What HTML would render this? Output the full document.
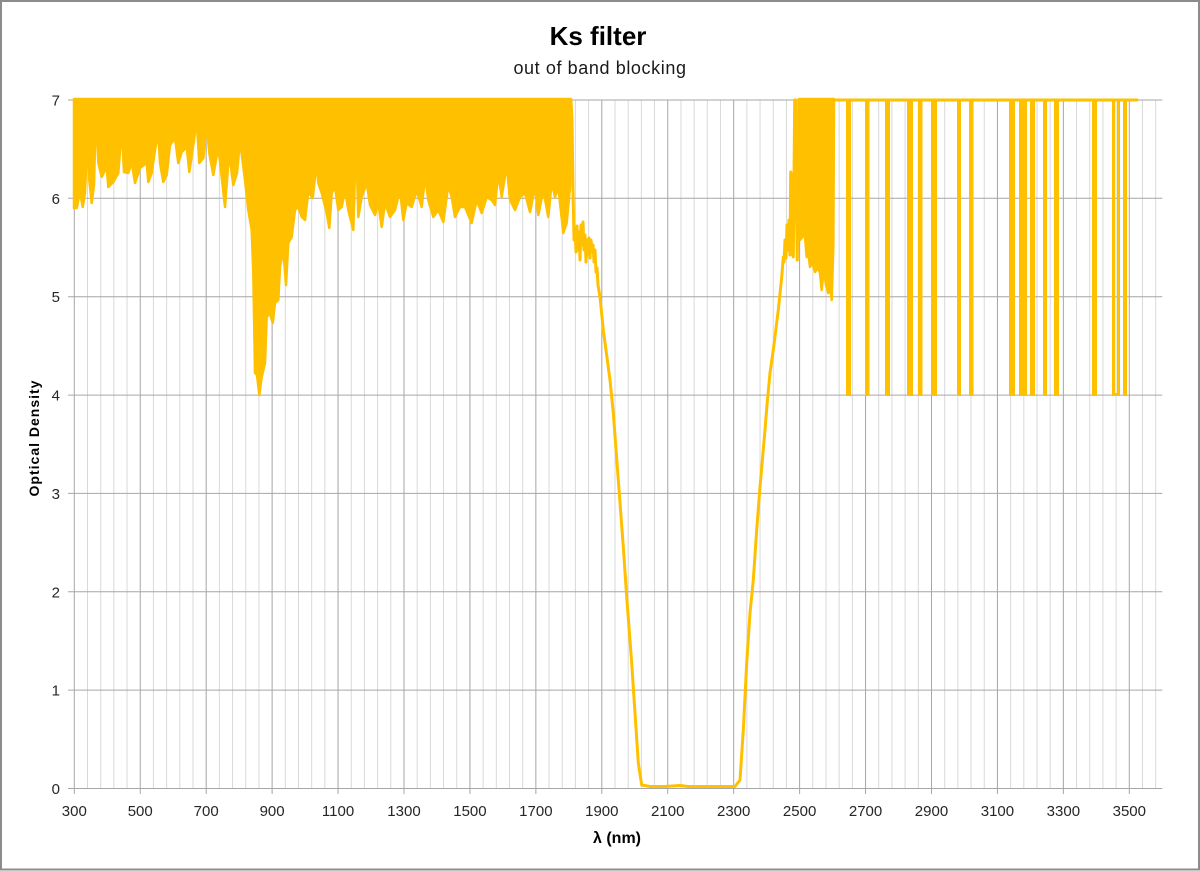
<!DOCTYPE html>
<html>
<head>
<meta charset="utf-8">
<style>
html,body{margin:0;padding:0;background:#fff;}
body{width:1200px;height:871px;overflow:hidden;}
svg{display:block;}
text{font-family:"Liberation Sans",sans-serif;}
</style>
</head>
<body>
<svg width="1200" height="871" viewBox="0 0 1200 871" xmlns="http://www.w3.org/2000/svg">
<rect x="0" y="0" width="1200" height="871" fill="#fff"/>
<rect x="1" y="1" width="1198" height="868.5" fill="none" stroke="#8c8c8c" stroke-width="2"/>

<!-- titles -->
<text x="598" y="45" text-anchor="middle" font-size="26" font-weight="bold" fill="#000">Ks filter</text>
<text x="600" y="74" text-anchor="middle" font-size="18" letter-spacing="0.6" fill="#1a1a1a">out of band blocking</text>

<!-- minor vertical gridlines -->
<defs>
<g id="mn" stroke="#d9d9d9" stroke-width="1">
<line x1="13.19" y1="100" x2="13.19" y2="788.5"/>
<line x1="26.38" y1="100" x2="26.38" y2="788.5"/>
<line x1="39.56" y1="100" x2="39.56" y2="788.5"/>
<line x1="52.75" y1="100" x2="52.75" y2="788.5"/>
</g>
</defs>
<use href="#mn" x="74.3"/>
<use href="#mn" x="140.24"/>
<use href="#mn" x="206.18"/>
<use href="#mn" x="272.11"/>
<use href="#mn" x="338.05"/>
<use href="#mn" x="403.99"/>
<use href="#mn" x="469.93"/>
<use href="#mn" x="535.86"/>
<use href="#mn" x="601.8"/>
<use href="#mn" x="667.74"/>
<use href="#mn" x="733.68"/>
<use href="#mn" x="799.61"/>
<use href="#mn" x="865.55"/>
<use href="#mn" x="931.49"/>
<use href="#mn" x="997.43"/>
<use href="#mn" x="1063.36"/>
<g stroke="#d9d9d9" stroke-width="1">
<line x1="1142.49" y1="100" x2="1142.49" y2="788.5"/>
<line x1="1155.68" y1="100" x2="1155.68" y2="788.5"/>
</g>

<!-- major vertical gridlines + ticks -->
<g stroke="#a6a6a6" stroke-width="1">
<line x1="140.24" y1="100" x2="140.24" y2="794"/>
<line x1="206.18" y1="100" x2="206.18" y2="794"/>
<line x1="272.11" y1="100" x2="272.11" y2="794"/>
<line x1="338.05" y1="100" x2="338.05" y2="794"/>
<line x1="403.99" y1="100" x2="403.99" y2="794"/>
<line x1="469.93" y1="100" x2="469.93" y2="794"/>
<line x1="535.86" y1="100" x2="535.86" y2="794"/>
<line x1="601.8" y1="100" x2="601.8" y2="794"/>
<line x1="667.74" y1="100" x2="667.74" y2="794"/>
<line x1="733.68" y1="100" x2="733.68" y2="794"/>
<line x1="799.61" y1="100" x2="799.61" y2="794"/>
<line x1="865.55" y1="100" x2="865.55" y2="794"/>
<line x1="931.49" y1="100" x2="931.49" y2="794"/>
<line x1="997.43" y1="100" x2="997.43" y2="794"/>
<line x1="1063.36" y1="100" x2="1063.36" y2="794"/>
<line x1="1129.3" y1="100" x2="1129.3" y2="794"/>
</g>

<!-- horizontal gridlines + y ticks -->
<g stroke="#a6a6a6" stroke-width="1">
<line x1="68" y1="100" x2="1162.3" y2="100"/>
<line x1="68" y1="198.3" x2="1162.3" y2="198.3"/>
<line x1="68" y1="296.7" x2="1162.3" y2="296.7"/>
<line x1="68" y1="395.1" x2="1162.3" y2="395.1"/>
<line x1="68" y1="493.4" x2="1162.3" y2="493.4"/>
<line x1="68" y1="591.8" x2="1162.3" y2="591.8"/>
<line x1="68" y1="690.1" x2="1162.3" y2="690.1"/>
<line x1="68" y1="788.5" x2="1162.3" y2="788.5"/>
<line x1="74.3" y1="100" x2="74.3" y2="794"/>
</g>

<!-- y tick labels -->
<g font-size="15" fill="#262626" text-anchor="end">
<text x="60" y="105.5">7</text>
<text x="60" y="203.8">6</text>
<text x="60" y="302.2">5</text>
<text x="60" y="400.6">4</text>
<text x="60" y="498.9">3</text>
<text x="60" y="597.3">2</text>
<text x="60" y="695.6">1</text>
<text x="60" y="794">0</text>
</g>

<!-- x tick labels -->
<g font-size="15" fill="#262626" text-anchor="middle">
<text x="74.3" y="816">300</text>
<text x="140.24" y="816">500</text>
<text x="206.18" y="816">700</text>
<text x="272.11" y="816">900</text>
<text x="338.05" y="816">1100</text>
<text x="403.99" y="816">1300</text>
<text x="469.93" y="816">1500</text>
<text x="535.86" y="816">1700</text>
<text x="601.8" y="816">1900</text>
<text x="667.74" y="816">2100</text>
<text x="733.68" y="816">2300</text>
<text x="799.61" y="816">2500</text>
<text x="865.55" y="816">2700</text>
<text x="931.49" y="816">2900</text>
<text x="997.43" y="816">3100</text>
<text x="1063.36" y="816">3300</text>
<text x="1129.3" y="816">3500</text>
</g>

<!-- axis titles -->
<text x="617" y="843" text-anchor="middle" font-size="16" font-weight="bold" fill="#000">λ (nm)</text>
<text transform="translate(39,438) rotate(-90)" text-anchor="middle" font-size="14" font-weight="bold" letter-spacing="1" fill="#000">Optical Density</text>

<!-- series -->
<g fill="#ffc000" stroke="#ffc000" stroke-linejoin="round" stroke-linecap="round">
<polygon stroke-width="2.5" points="74,99 74,208 76.7,208 80,192 82.7,207 85,193 87.3,137 89.3,180 91.7,203 94,185 96,107 98.3,163 101.7,177 106.7,167 108.3,187 113.3,182 118.3,173 121.7,128 124,172 128.3,173 131.7,162 135,183 140,168 146.7,163 148.3,182 151.7,173 155,150 158.3,133 160,163 163.3,182 166.7,175 170,145 175,138 178.3,163 181.7,152 186.7,147 189.3,172 193.3,145 196.7,120 199.3,163 203.3,158 206.7,125 209.3,153 213.3,175 218.3,147 221.7,177 225,207 228.3,163 230,160 233.3,185 237,173 240,140 245,180 248.3,210 251.7,230 253.3,273 255,373 257,375 259.3,395 261.7,377 265,363 266.7,317 270,313 272.7,323 275,303 278.3,300 280,267 283.3,250 286,285 288.3,243 291.7,237 295,210 298.3,207 301.7,217 305,220 308.3,192 312.7,198 316.7,162 318.3,183 321.7,193 326.7,213 329.3,228 331.7,193 335,187 338.3,210 341.7,207 345,190 348.3,210 353.3,230 356,137 358.3,217 361.7,197 366.7,183 370,205 375,215 378.3,203 381.7,227 385,203 390,217 395,210 400,190 403.3,220 406.7,203 411.7,207 416.7,190 421.7,207 425,177 428.3,200 433.3,217 438.3,210 443.3,222 448.3,185 451.7,197 455,217 460,207 465,207 471.7,223 476.7,200 481.7,213 486.7,197 491.7,200 495,205 498.3,173 501.7,197 506.7,165 510,200 515,210 520,197 525,193 530,212 535,187 538.3,215 543.3,190 548.3,217 551.7,182 555,197 558.3,187 563.3,233 566.7,223 570,187 571,99"/>
<polyline fill="none" stroke-width="3" points="571,100 572,120 573,190 574,240 575,228 576,252 577,226 578,250 579,232 580,260 581,225 582,245 583,222 584,250 585,235 586,262 587,240 588,255 589,238 590,258 591,240 592,250 593,245 594,262 595,250 596,272 597,268 598,285 600,297 603.3,330 610,380 613.3,413 618.3,480 623.3,547 626.7,597 631.7,663 635,713 638.3,763 641.7,785 650,786.5 665,786.5 672,786 680,785.5 688,786.5 710,786.5 735,786.5 740,780 743.3,730 746.7,663 750,613 753.3,580 756.7,530 760,487 765,430 767,405 770,373 773.3,350 778.3,310 781.7,277 783.3,257 784,262 785,240 786,258 787,225 788,250 789,220 790,255 790.7,172 791.7,177 792,250 793.3,257 794.7,100 795.5,100 796,180 797.3,260 798.7,100"/>
<polygon stroke-width="2.5" points="798.7,99 800,240 803,236 805,237 806.7,257 808,250 810,267 812,262 815,272 818,268 820,273 821.7,290 823,275 825,278 826,285 828.3,293 830,285 831.7,300 833.3,247 834,99"/>
<line x1="834" y1="100" x2="1137" y2="100" stroke-width="3"/>
</g>
<g fill="#ffc000">
<rect x="846" y="99" width="5" height="297"/>
<rect x="865" y="99" width="4.5" height="297"/>
<rect x="885" y="99" width="5" height="297"/>
<rect x="907" y="99" width="6" height="297"/>
<rect x="918" y="99" width="4.5" height="297"/>
<rect x="931" y="99" width="6" height="297"/>
<rect x="957" y="99" width="4" height="297"/>
<rect x="969" y="99" width="4.5" height="297"/>
<rect x="1009" y="99" width="6" height="297"/>
<rect x="1019" y="99" width="8" height="297"/>
<rect x="1030" y="99" width="5" height="297"/>
<rect x="1043" y="99" width="4" height="297"/>
<rect x="1054" y="99" width="5" height="297"/>
<rect x="1092" y="99" width="5" height="297"/>
<rect x="1123" y="99" width="4" height="297"/>
</g>
<path d="M1113.5,100 V394.5 H1118.5 V100" fill="none" stroke="#ffc000" stroke-width="3"/>
</svg>
</body>
</html>
